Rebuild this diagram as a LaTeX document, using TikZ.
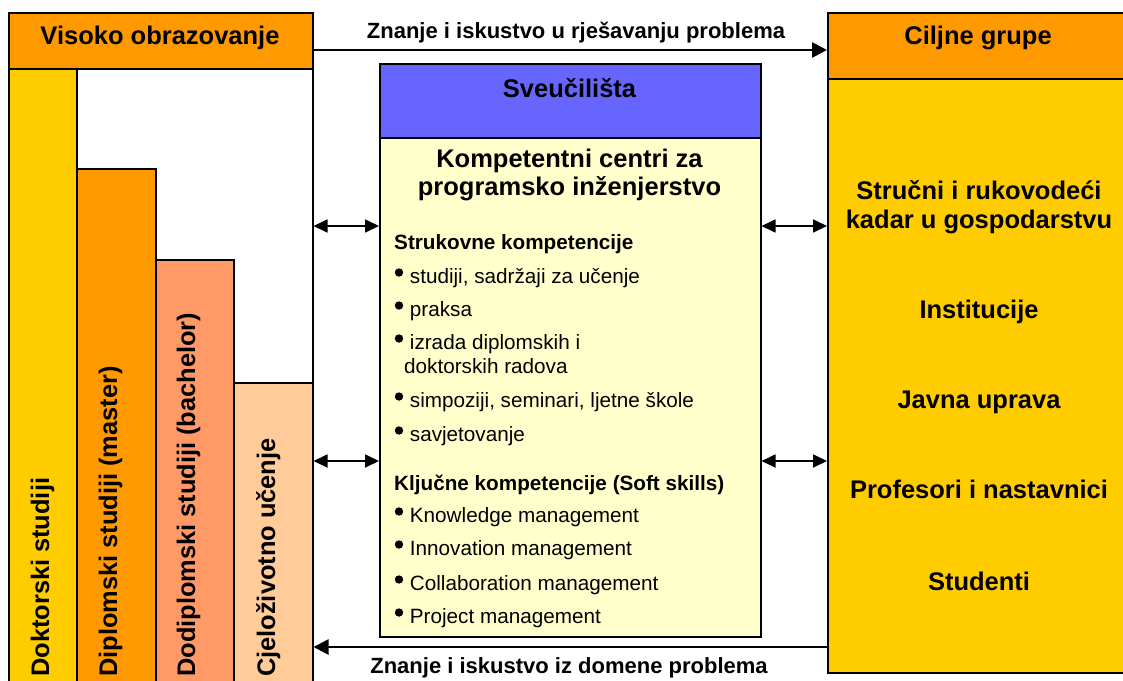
\documentclass[tikz,border=0pt]{standalone}
\usepackage{fontspec}
\setmainfont{Liberation Sans}
\usetikzlibrary{arrows.meta,positioning}

\definecolor{hdrorange}{HTML}{FF9900}
\definecolor{baryellow}{HTML}{FFCC00}
\definecolor{barsalmon}{HTML}{FF9966}
\definecolor{barpeach}{HTML}{FFCC99}
\definecolor{uniblue}{HTML}{6666FF}
\definecolor{paleyellow}{HTML}{FFFFCC}

\begin{document}
\begin{tikzpicture}[
    x=1pt, y=-1pt,
    panel/.style={draw, line width=1.5pt, inner sep=0pt, anchor=north west},
    title/.style={font=\fontsize{25.5}{29}\selectfont\bfseries, anchor=base, inner sep=0pt},
    flowtext/.style={font=\fontsize{22}{26}\selectfont\bfseries, anchor=base, inner sep=0pt},
    subhead/.style={font=\fontsize{20.7}{24}\selectfont\bfseries, anchor=base west, inner sep=0pt},
    item/.style={font=\fontsize{20.7}{24}\selectfont, anchor=base west, inner sep=0pt},
    vlabel/.style={font=\fontsize{25.4}{28}\selectfont\bfseries, rotate=90, anchor=base west, inner sep=0pt},
    arrow/.style={-{Triangle[length=15pt,width=15pt]}, line width=2.7pt},
    dblarrow/.style={{Triangle[length=14pt,width=13pt]}-{Triangle[length=14pt,width=13pt]}, line width=1.7pt}
]
\useasboundingbox (0,0) rectangle (1123,680);
\clip (0,0) rectangle (1123,680);

% Higher education side
\node[panel, minimum width=304pt, minimum height=690pt] (frame) at (8,12) {};
\node[panel, fill=baryellow, minimum width=68pt, minimum height=640pt] (bar1) at (8,68) {};
\node[panel, fill=hdrorange, minimum width=79pt, minimum height=540pt] (bar2) at (76,168) {};
\node[panel, fill=barsalmon, minimum width=78pt, minimum height=450pt] (bar3) at (155,259) {};
\node[panel, fill=barpeach, minimum width=79pt, minimum height=330pt] (bar4) at (233,382) {};
\node[panel, fill=hdrorange, minimum width=304pt, minimum height=56pt] (visoko) at (8,12) {};
\node[title] (visokotxt) at (160,44) {Visoko obrazovanje};

\node[vlabel] (v1) at (49,677) {Doktorski studiji};
\node[vlabel] (v2) at (117,677) {Diplomski studiji (master)};
\node[vlabel] (v3) at (195,677) {Dodiplomski studiji (bachelor)};
\node[vlabel] (v4) at (275,677) {Cjeloživotno učenje};

% Universities
\node[panel, fill=uniblue, minimum width=381pt, minimum height=74pt] (sveuc) at (379,63) {};
\node[panel, fill=paleyellow, minimum width=381pt, minimum height=499pt] (centar) at (379,137) {};
\node[title] (sveuctxt) at (569.5,97) {Sveučilišta};
\node[title] (kc1) at (569.5,167) {Kompetentni centri za};
\node[title] (kc2) at (569.5,195) {programsko inženjerstvo};

\node[subhead] (struk) at (394,249) {Strukovne kompetencije};
\node[item] (s1) at (409.7,283) {studiji, sadržaji za učenje};
\node[item] (s2) at (409.7,316) {praksa};
\node[item] (s3) at (409.7,349) {izrada diplomskih i};
\node[item] (s3b) at (404,373) {doktorskih radova};
\node[item] (s4) at (409.7,407) {simpoziji, seminari, ljetne škole};
\node[item] (s5) at (409.7,441) {savjetovanje};

\node[subhead] (kljuc) at (394,490) {Ključne kompetencije (Soft skills)};
\node[item] (k1) at (409.7,522) {Knowledge management};
\node[item] (k2) at (409.7,555) {Innovation management};
\node[item] (k3) at (409.7,590) {Collaboration management};
\node[item] (k4) at (409.7,623) {Project management};

% Bullets
\foreach \n in {s1,s2,s3,s4,s5,k1,k2,k3,k4}
    \fill ([xshift=-10.7pt,yshift=10.5pt]\n.base west) circle (4.2pt);

% Target groups
\node[panel, fill=hdrorange, minimum width=308pt, minimum height=66pt] (ciljne) at (827,12) {};
\node[panel, fill=baryellow, minimum width=308pt, minimum height=594pt] (grupe) at (827,78) {};
\node[title] (ciljnetxt) at (978,44) {Ciljne grupe};
\node[title] (g1) at (979,199) {Stručni i rukovodeći};
\node[title] (g1b) at (979,228) {kadar u gospodarstvu};
\node[title] (g2) at (979,318) {Institucije};
\node[title] (g3) at (979,408) {Javna uprava};
\node[title] (g4) at (979,498) {Profesori i nastavnici};
\node[title] (g5) at (979,590) {Studenti};

% Knowledge flows
\coordinate (gore) at (0,50);
\coordinate (dolje) at (0,647);
\draw[arrow] (visoko.east |- gore) -- (ciljne.west |- gore);
\draw[arrow] (grupe.west |- dolje) -- (frame.east |- dolje);
\node[flowtext] (flow1) at (576,38) {Znanje i iskustvo u rješavanju problema};
\node[flowtext] (flow2) at (569,673) {Znanje i iskustvo iz domene problema};

\foreach \y in {226,461} {
    \draw[dblarrow] (frame.east |- 0,\y) -- (centar.west |- 0,\y);
    \draw[dblarrow] (centar.east |- 0,\y) -- (grupe.west |- 0,\y);
}
\end{tikzpicture}
\end{document}
